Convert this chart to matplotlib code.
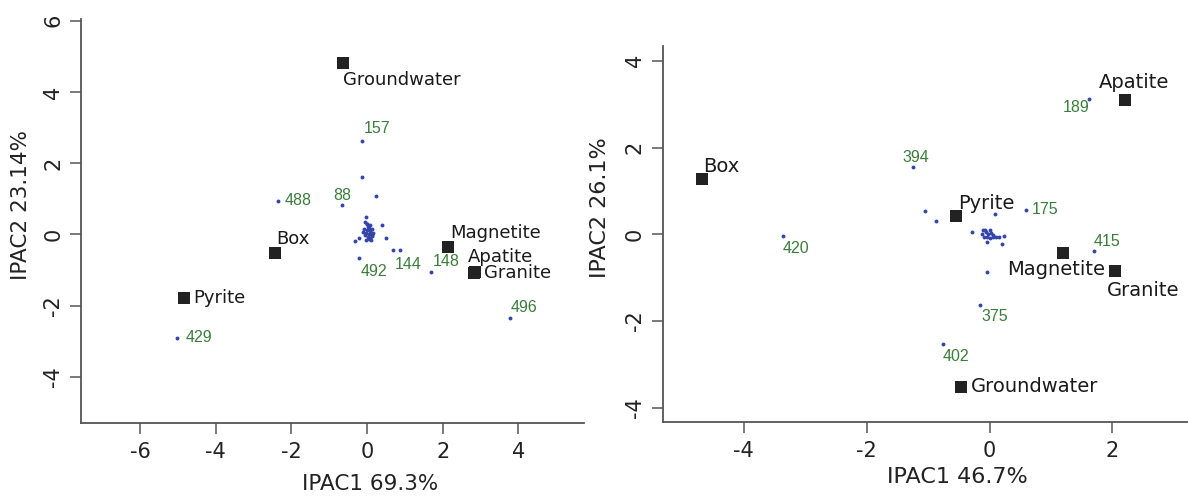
import matplotlib
matplotlib.use("Agg")
import matplotlib.pyplot as plt

plt.rcParams['axes.unicode_minus'] = False

# --- data ---
src_names = ['Groundwater', 'Box', 'Pyrite', 'Magnetite', 'Apatite', 'Granite']

left_src_x = [-0.63, -2.42, -4.83, 2.15, 2.84, 2.82]
left_src_y = [4.82, -0.53, -1.78, -0.35, -1.06, -1.08]

left_tag = ['157', '88', '488', '492', '144', '148', '496', '429']
left_tag_x = [-0.14, -0.67, -2.35, -0.20, 0.69, 1.69, 3.78, -5.01]
left_tag_y = [2.63, 0.83, 0.94, -0.67, -0.45, -1.07, -2.36, -2.90]

left_site_x = [-0.14, 0.23, -0.03, 0.39, -0.32, -0.22, 0.51, 0.86,
               -0.05, 0.00, 0.03, -0.08, 0.05, 0.08, -0.02, 0.10, 0.13, -0.06,
               0.02, 0.06, -0.10, 0.15, 0.01, 0.04, -0.04, 0.09, 0.12, -0.01,
               0.07, 0.11, 0.14]
left_site_y = [1.60, 1.07, 0.49, 0.26, -0.19, -0.10, -0.11, -0.45,
               0.35, 0.28, 0.22, 0.15, 0.18, 0.10, 0.05, 0.02, -0.03, -0.02,
               -0.08, 0.00, 0.08, 0.05, 0.12, -0.12, -0.15, -0.10, -0.05, 0.30,
               0.25, -0.16, 0.14]

right_src_x = [-0.47, -4.68, -0.55, 1.20, 2.21, 2.04]
right_src_y = [-3.52, 1.27, 0.42, -0.44, 3.09, -0.84]

right_tag = ['189', '394', '175', '415', '420', '375', '402']
right_tag_x = [1.62, -1.25, 0.59, 1.70, -3.37, -0.15, -0.76]
right_tag_y = [3.12, 1.54, 0.56, -0.39, -0.04, -1.63, -2.52]

right_site_x = [-1.05, -0.87, -0.52, 0.09, -0.29, -0.04,
                -0.10, -0.06, -0.02, 0.02, 0.06, -0.13, -0.09, -0.04, 0.01,
                0.10, 0.16, 0.24, -0.04, 0.20, -0.07, 0.00, 0.05]
right_site_y = [0.53, 0.31, 0.35, 0.47, 0.06, -0.88,
                0.10, 0.06, 0.00, 0.03, -0.02, 0.00, -0.06, -0.07, -0.09,
                -0.06, -0.07, -0.04, -0.17, -0.22, 0.11, 0.09, -0.07]

# label placement: (ha, dx px, dy px)
left_src_pos = {'Groundwater': ('left', 0, -17), 'Box': ('left', 1, 14),
                'Pyrite': ('left', 9, 0), 'Magnetite': ('left', 2, 14),
                'Apatite': ('left', -7, 15), 'Granite': ('left', 10, 0)}
left_tag_pos = {'157': ('left', 2, 12), '88': ('center', 1, 9), '488': ('left', 7, 0),
                '492': ('left', 1, -13), '144': ('left', 2, -14), '148': ('left', 2, 11),
                '496': ('left', 1, 11), '429': ('left', 8, 0)}
right_src_pos = {'Groundwater': ('left', 10, 0), 'Box': ('left', 1, 13),
                 'Pyrite': ('left', 2, 13), 'Magnetite': ('center', -7, -16),
                 'Apatite': ('center', 9, 18), 'Granite': ('left', -8, -20)}
right_tag_pos = {'189': ('right', 0, -9), '394': ('center', 3, 10), '175': ('left', 6, 0),
                 '415': ('left', 0, 10), '420': ('left', 0, -12), '375': ('left', 1, -12),
                 '402': ('left', 0, -13)}

SQ = '#222222'
DOT = '#3345aa'
GREEN = '#3a7d3a'
AX = '#555555'
NUM_FONT = ['Liberation Sans', 'DejaVu Sans']


def style_axes(ax):
    for s in ['top', 'right']:
        ax.spines[s].set_visible(False)
    for s in ['left', 'bottom']:
        ax.spines[s].set_color(AX)
        ax.spines[s].set_linewidth(1.3)
    ax.tick_params(direction='out', length=8, width=1.1, color=AX,
                   labelsize=15, labelcolor='#222222')
    ax.tick_params(axis='x', pad=6)
    ax.tick_params(axis='y', labelrotation=90, pad=5)
    for lab in ax.get_yticklabels():
        lab.set_va('center')


def draw_panel(ax, sx, sy, tx, ty, tags, ex, ey, src_pos, tag_pos, sq_size, src_fs):
    ax.plot(sx, sy, 'o', ms=2.8, color=DOT, mew=0)
    ax.plot(tx, ty, 'o', ms=2.8, color=DOT, mew=0)
    ax.plot(ex, ey, 's', ms=sq_size, color=SQ, mew=0)
    for name, x, y in zip(src_names, ex, ey):
        ha, dx, dy = src_pos[name]
        ax.annotate(name, (x, y), xytext=(dx, dy), textcoords='offset pixels',
                    ha=ha, va='center', fontsize=src_fs, color='#1a1a1a')
    for t, x, y in zip(tags, tx, ty):
        ha, dx, dy = tag_pos[t]
        ax.annotate(t, (x, y), xytext=(dx, dy), textcoords='offset pixels',
                    ha=ha, va='center', fontsize=11.5, color=GREEN, family=NUM_FONT)


fig = plt.figure(figsize=(11.88, 4.96), dpi=100)

W, H = 1188, 496
ax1 = fig.add_axes([81.3 / W, 1 - 422.7 / H, (584.3 - 81.3) / W, (422.7 - 19.3) / H])
draw_panel(ax1, left_site_x, left_site_y, left_tag_x, left_tag_y, left_tag,
           left_src_x, left_src_y, left_src_pos, left_tag_pos, 8.5, 13)
ax1.set_xlim(-7.55, 5.74)
ax1.set_ylim(-5.29, 6.04)
ax1.set_xticks([-6, -4, -2, 0, 2, 4])
ax1.set_yticks([-4, -2, 0, 2, 4, 6])
style_axes(ax1)

ax2 = fig.add_axes([662.7 / W, 1 - 421.7 / H, (W - 662.7) / W, (421.7 - 46) / H])
draw_panel(ax2, right_site_x, right_site_y, right_tag_x, right_tag_y, right_tag,
           right_src_x, right_src_y, right_src_pos, right_tag_pos, 8, 14)
ax2.set_xlim(-5.32, 3.23)
ax2.set_ylim(-4.32, 4.34)
ax2.set_xticks([-4, -2, 0, 2])
ax2.set_yticks([-4, -2, 0, 2, 4])
style_axes(ax2)

fig.text(370 / W, 1 - 484 / H, 'IPAC1 69.3%', ha='center', va='center', fontsize=15.5, color='#222222')
fig.text(21 / W, 1 - 205 / H, 'IPAC2 23.14%', ha='center', va='center', rotation=90, fontsize=15.5, color='#222222')
fig.text(957 / W, 1 - 477 / H, 'IPAC1 46.7%', ha='center', va='center', fontsize=16, color='#222222')
fig.text(600 / W, 1 - 208 / H, 'IPAC2 26.1%', ha='center', va='center', rotation=90, fontsize=16, color='#222222')

fig.savefig('out.png', dpi=100)
